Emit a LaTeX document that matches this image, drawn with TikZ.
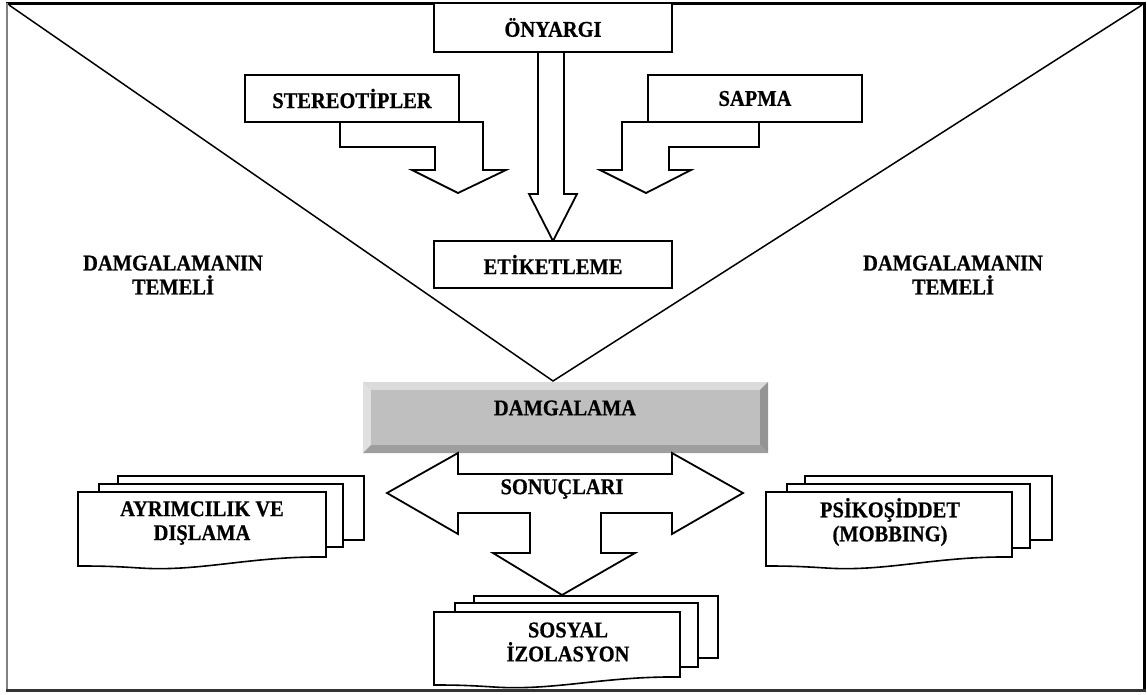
\documentclass[tikz,border=0pt]{standalone}
\usepackage{fontspec}
\setmainfont{Liberation Serif}[FakeStretch=0.91, BoldFeatures={FakeBold=0.6}]
\begin{document}
\begin{tikzpicture}[x=1pt,y=-1pt,
  lbl/.style={font=\bfseries\fontsize{22.5}{24}\selectfont, align=center, inner sep=0pt},
  box/.style={draw, line width=1.8pt, fill=white, inner sep=0pt, font=\bfseries\fontsize{22.5}{24}\selectfont},
  blockarrow/.style={draw, line width=1.8pt, fill=white, line join=miter},
  sheet/.style={draw, line width=1.6pt, fill=white},
  tri/.style={draw, line width=1.5pt}
]
\useasboundingbox (0,0) rectangle (1147,694);

% frame
\draw[line width=3pt, black] (6,3) -- (1146,3);
\draw[line width=1.4pt, gray] (7,3) -- (7,690);
\draw[line width=2.2pt, black] (1144.5,3) -- (1144.5,690);
\draw[line width=3pt, black!80] (6,690) -- (1146,690);

% big triangle
\coordinate (tl) at (9,5);
\coordinate (tr) at (1142,5);
\coordinate (apex) at (553,381);
\draw[tri] (tl) -- (apex) -- (tr);

% arrows of the top part
\draw[blockarrow] (538,52) -- (538,194) -- (529,194) -- (553,241) -- (577,194) -- (564,194) -- (564,52) -- cycle;
\draw[blockarrow] (340,122) -- (340,147) -- (435,147) -- (435,170) -- (412,170) -- (458,193) -- (506,170) -- (483,170) -- (483,122) -- cycle;
\draw[blockarrow] (622,122) -- (622,170) -- (600,170) -- (646,193) -- (691,170) -- (669,170) -- (669,147) -- (759,147) -- (759,122) -- cycle;

% boxes
\node[box, minimum width=238pt, minimum height=49pt] (ony) at (553,27.5) {ÖNYARGI};
\node[box, minimum width=214pt, minimum height=47pt] (ster) at (352,98.5) {STEREOTİPLER};
\node[box, minimum width=214pt, minimum height=47pt] (sapma) at (755,98.5) {SAPMA};
\node[box, minimum width=238pt, minimum height=47pt] (etik) at (553,264.5) {ETİKETLEME};

% side labels
\node[lbl] (tml) at (173,275) {DAMGALAMANIN\\TEMELİ};
\node[lbl] (tmr) at (953,275) {DAMGALAMANIN\\TEMELİ};

% DAMGALAMA bevel box
\fill[black!22] (363,382) rectangle (768,453);
\fill[black!14] (363,382) -- (768,382) -- (760,390) -- (371,390) -- cycle;
\fill[black!12] (363,382) -- (371,390) -- (371,445) -- (363,453) -- cycle;
\fill[black!38] (363,453) -- (371,445) -- (760,445) -- (768,453) -- cycle;
\fill[black!42] (768,382) -- (760,390) -- (760,445) -- (768,453) -- cycle;
\fill[black!25] (371,390) rectangle (760,445);
\node[lbl] (damg) at (565,408) {DAMGALAMA};

% consequences arrow
\draw[blockarrow] (387,493) -- (458,453) -- (458,474) -- (672,474) -- (672,453) -- (743,493) -- (672,534) -- (672,513)
  -- (601,513) -- (601,553) -- (635,553) -- (562,595) -- (493,553) -- (530,553) -- (530,513) -- (458,513) -- (458,534) -- cycle;
\node[lbl] (son) at (562,489) {SONUÇLARI};

% multi documents
% left
\draw[sheet] (118,476) rectangle (364,540);
\draw[sheet] (99,484) rectangle (343,547);
\draw[sheet] (78,492) -- (326,492) -- (326,557) .. controls (250,556) and (200,572) .. (140,568) .. controls (110,566) and (95,566) .. (78,566) -- cycle;
\node[lbl] (ayr) at (202,523) {AYRIMCILIK VE\\DIŞLAMA};
% right
\draw[sheet] (805,476) rectangle (1052,540);
\draw[sheet] (787,484) rectangle (1030,548);
\draw[sheet] (766,492) -- (1012,492) -- (1012,557) .. controls (936,556) and (886,572) .. (826,568) .. controls (796,566) and (781,566) .. (766,566) -- cycle;
\node[lbl] (psi) at (890,522) {PSİKOŞİDDET\\(MOBBING)};
% bottom
\draw[sheet] (474,596) rectangle (718,658);
\draw[sheet] (455,603) rectangle (698,667);
\draw[sheet] (434,612) -- (680,612) -- (680,677) .. controls (604,676) and (554,691) .. (494,687) .. controls (464,685) and (449,685) .. (434,685) -- cycle;
\node[lbl] (sos) at (568,642) {SOSYAL\\İZOLASYON};
\end{tikzpicture}
\end{document}
